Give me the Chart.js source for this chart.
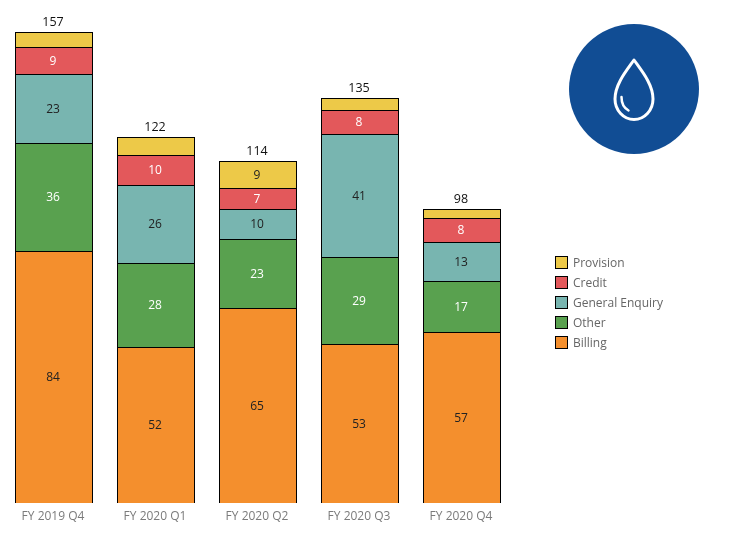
<!DOCTYPE html>
<html lang="en">
<head>
<meta charset="UTF-8">
<title>Enquiries by quarter</title>
<script src="https://cdn.jsdelivr.net/npm/chart.js"></script>
<style>
    html, body { margin: 0; padding: 0; background: #fff; }
    #wrap { position: relative; width: 729px; height: 545px; }
    #icon { position: absolute; left: 569px; top: 24px; }
</style>
</head>
<body>
<div id="wrap">
    <canvas id="chart" width="729" height="545"></canvas>
    <!-- water drop badge -->
    <svg id="icon" width="130" height="130" viewBox="0 0 130 130">
        <circle cx="65" cy="65" r="65" fill="#114d94"/>
        <path d="M65 36 C58 46 46 60 46 75 A19 20.5 0 0 0 84 75 C84 60 72 46 65 36 Z" fill="none" stroke="#fff" stroke-width="3" stroke-linejoin="round"/>
        <path d="M52.5 73 C52.5 79 55 84 59.5 86.5" fill="none" stroke="#fff" stroke-width="2.5" stroke-linecap="round"/>
    </svg>
</div>
<script>
    const quarters = ["FY 2019 Q4", "FY 2020 Q1", "FY 2020 Q2", "FY 2020 Q3", "FY 2020 Q4"];
    const billing = [84, 52, 65, 53, 57];
    const other = [36, 28, 23, 29, 17];
    const generalEnquiry = [23, 26, 10, 41, 13];
    const credit = [9, 10, 7, 8, 8];
    const provision = [5, 6, 9, 4, 3];
    const totals = [157, 122, 114, 135, 98];

    const FONT = '"Open Sans", sans-serif';

    // bottom of the stack first, legend reads the other way round
    const series = [
        { label: "Billing", data: billing, color: "#f48f2d", text: "#222" },
        { label: "Other", data: other, color: "#59a14f", text: "#fff" },
        { label: "General Enquiry", data: generalEnquiry, color: "#78b5b0", text: "#222" },
        { label: "Credit", data: credit, color: "#e3585b", text: "#fff" },
        { label: "Provision", data: provision, color: "#edc948", text: "#222" }
    ];

    // numbers inside the segments and totals on top
    const barLabels = {
        id: "barLabels",
        afterDatasetsDraw(chart) {
            const ctx = chart.ctx;
            ctx.save();
            ctx.textAlign = "center";
            ctx.textBaseline = "middle";
            ctx.font = "12px " + FONT;
            chart.data.datasets.forEach((ds, i) => {
                chart.getDatasetMeta(i).data.forEach((bar, j) => {
                    if (ds.data[j] < 7) return; // too thin for a label
                    ctx.fillStyle = series[i].text;
                    ctx.fillText(ds.data[j], bar.x - 1, (bar.y + bar.base) / 2 + 1);
                });
            });
            ctx.fillStyle = "#111";
            ctx.font = "12.5px " + FONT;
            totals.forEach((t, j) => {
                const x = chart.scales.x.getPixelForValue(j);
                ctx.fillText(t, x - 1, chart.scales.y.getPixelForValue(t) - 10);
            });
            ctx.restore();
        }
    };

    // legend sits by itself right of the bars
    const sideLegend = {
        id: "sideLegend",
        afterDraw(chart) {
            const ctx = chart.ctx;
            ctx.save();
            ctx.font = "12px " + FONT;
            ctx.textBaseline = "middle";
            series.slice().reverse().forEach((s, i) => {
                const y = 256 + i * 20;
                ctx.fillStyle = s.color;
                ctx.fillRect(555.5, y + 0.5, 12, 12);
                ctx.strokeStyle = "#000";
                ctx.lineWidth = 1;
                ctx.strokeRect(555.5, y + 0.5, 12, 12);
                ctx.fillStyle = "#666";
                ctx.fillText(s.label, 573, y + 8);
            });
            ctx.restore();
        }
    };

    new Chart(document.getElementById("chart"), {
        type: "bar",
        data: {
            labels: quarters,
            datasets: series.map(s => ({
                label: s.label,
                data: s.data,
                backgroundColor: s.color,
                borderColor: "#000",
                borderWidth: { top: 1, left: 1, right: 1, bottom: 0 },
                borderSkipped: false,
                inflateAmount: 0,
                categoryPercentage: 1,
                barPercentage: 78 / 102
            }))
        },
        options: {
            responsive: false,
            animation: false,
            layout: { padding: { left: 3, right: 216, top: 23, bottom: 0 } },
            plugins: { legend: { display: false }, tooltip: { enabled: false } },
            scales: {
                x: {
                    stacked: true,
                    grid: { display: false, drawTicks: false },
                    border: { display: false },
                    ticks: { color: "#7b7b7b", font: { family: FONT, size: 12 }, padding: 6, maxRotation: 0, labelOffset: -1 },
                    afterFit(scale) { scale.height = 42; }
                },
                y: { stacked: true, display: false, min: 0, max: 160 }
            }
        },
        plugins: [barLabels, sideLegend]
    });
</script>
</body>
</html>
